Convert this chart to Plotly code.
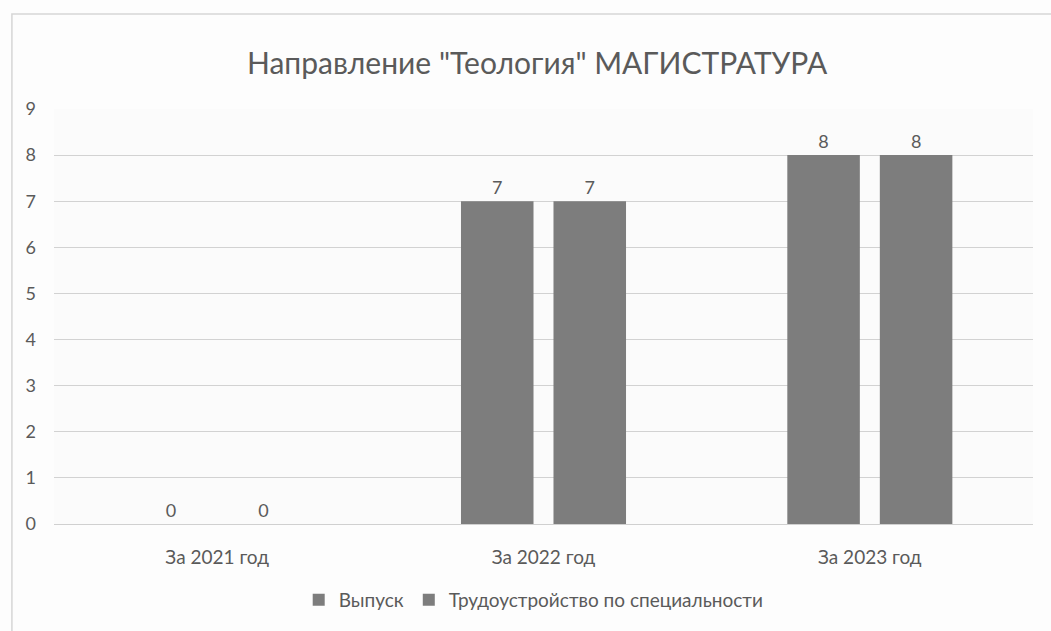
import plotly.graph_objects as go

categories = ["За 2021 год", "За 2022 год", "За 2023 год"]
vypusk = [0, 7, 8]
trudoustroystvo = [0, 7, 8]
series_names = ["Выпуск", "Трудоустройство по специальности"]
title_text = 'Направление "Теология" МАГИСТРАТУРА'

bar_color = "#7d7d7d"
text_color = "#5a5a5a"
font_fam = "Lato, Open Sans, sans-serif"

fig = go.Figure()
for name, vals in zip(series_names, [vypusk, trudoustroystvo]):
    fig.add_trace(go.Bar(
        x=categories, y=vals, name=name,
        marker=dict(color=bar_color, line=dict(width=0)),
        text=[str(v) for v in vals], textposition="outside",
        textfont=dict(size=18, color=text_color, family=font_fam),
        cliponaxis=False,
    ))

# light chart-area frame as in the scanned original
fig.add_shape(type="rect", xref="paper", yref="paper",
              x0=-0.043, x1=1.05, y0=-0.4, y1=1.229,
              line=dict(color="#d6d6d6", width=1.5), fillcolor="rgba(0,0,0,0)",
              layer="below")

fig.update_layout(
    width=1051, height=631,
    barmode="group", bargap=0.433, bargroupgap=0.216,
    paper_bgcolor="#fdfdfd", plot_bgcolor="#fbfbfb",
    margin=dict(l=54, r=18, t=109, b=107),
    title=dict(text=title_text, x=0.511, xanchor="center", y=0.899, yanchor="middle",
               font=dict(size=30, color=text_color, family=font_fam)),
    font=dict(family=font_fam, color=text_color),
    xaxis=dict(showgrid=False, showline=True, linecolor="#d0d0d0",
               tickfont=dict(size=19, color=text_color), ticks="",
               ticklabelstandoff=16),
    yaxis=dict(range=[0, 9], dtick=1, showgrid=True, gridcolor="#d2d2d2",
               gridwidth=1.2, zeroline=False, showline=False,
               tickfont=dict(size=18, color=text_color), ticklabelstandoff=17),
    legend=dict(orientation="h", x=0.49, xanchor="center", y=-0.183, yanchor="middle",
                font=dict(size=19, color=text_color), bgcolor="rgba(0,0,0,0)",
                itemwidth=30),
    showlegend=True,
)

fig.write_html("out.html", config={"displayModeBar": False},
               post_script="document.body.style.margin='0';")
